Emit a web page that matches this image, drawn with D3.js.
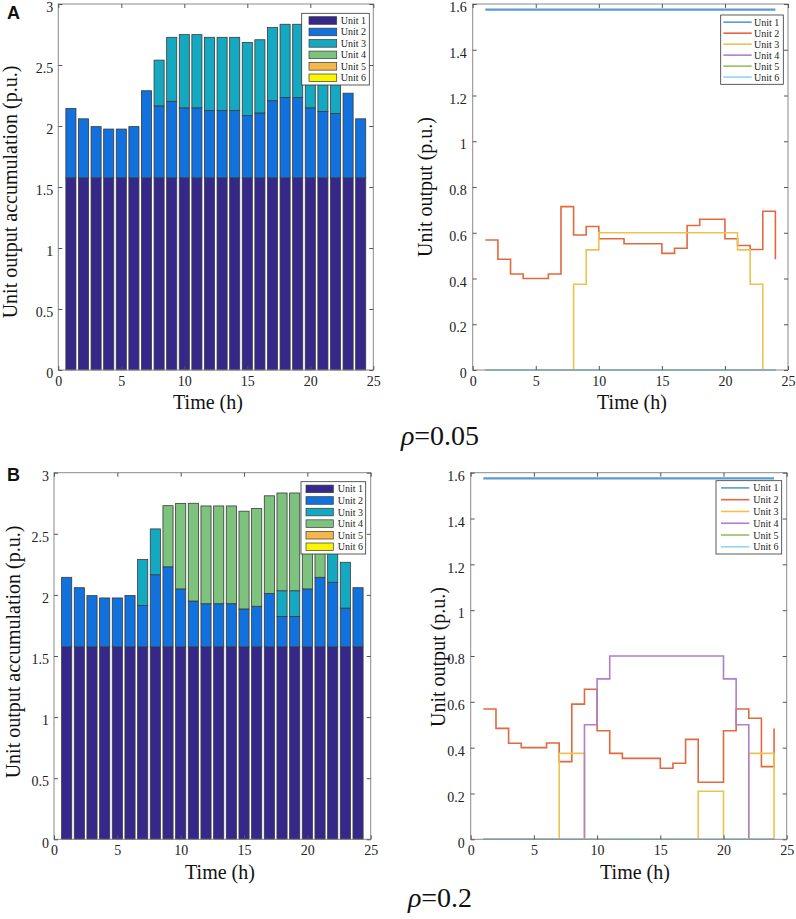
<!DOCTYPE html>
<html>
<head>
<meta charset="utf-8">
<script src="https://cdn.jsdelivr.net/npm/d3@7"></script>
<style>
  body { margin: 0; background: #fff; }
</style>
</head>
<body>
<script>
// hours 1..24
var hours = [1,2,3,4,5,6,7,8,9,10,11,12,13,14,15,16,17,18,19,20,21,22,23,24];
var unitNames = ["Unit 1","Unit 2","Unit 3","Unit 4","Unit 5","Unit 6"];

// rho = 0.05
var aUnit1 = [1.575,1.575,1.575,1.575,1.575,1.575,1.575,1.575,1.575,1.575,1.575,1.575,1.575,1.575,1.575,1.575,1.575,1.575,1.575,1.575,1.575,1.575,1.575,1.575];
var aUnit2 = [0.568,0.484,0.42,0.40,0.40,0.42,0.714,0.59,0.627,0.574,0.574,0.552,0.552,0.552,0.51,0.532,0.632,0.659,0.659,0.574,0.544,0.527,0.694,0.484];
var aUnit3 = [0,0,0,0,0,0,0,0.375,0.525,0.6,0.6,0.6,0.6,0.6,0.6,0.6,0.6,0.6,0.6,0.6,0.525,0.375,0,0];
var aUnit4 = [0,0,0,0,0,0,0,0,0,0,0,0,0,0,0,0,0,0,0,0,0,0,0,0];
var aUnit5 = [0,0,0,0,0,0,0,0,0,0,0,0,0,0,0,0,0,0,0,0,0,0,0,0];
var aUnit6 = [0,0,0,0,0,0,0,0,0,0,0,0,0,0,0,0,0,0,0,0,0,0,0,0];

// rho = 0.2
var bUnit1 = [1.575,1.575,1.575,1.575,1.575,1.575,1.575,1.575,1.575,1.575,1.575,1.575,1.575,1.575,1.575,1.575,1.575,1.575,1.575,1.575,1.575,1.575,1.575,1.575];
var bUnit2 = [0.569,0.484,0.419,0.40,0.40,0.42,0.339,0.59,0.655,0.474,0.375,0.353,0.353,0.353,0.31,0.332,0.436,0.249,0.249,0.474,0.569,0.528,0.317,0.484];
var bUnit3 = [0,0,0,0,0,0,0.375,0.375,0,0,0,0,0,0,0,0,0,0.21,0.21,0,0,0.375,0.375,0];
var bUnit4 = [0,0,0,0,0,0,0,0,0.5,0.7,0.8,0.8,0.8,0.8,0.8,0.8,0.8,0.8,0.8,0.7,0.5,0,0,0];
var bUnit5 = [0,0,0,0,0,0,0,0,0,0,0,0,0,0,0,0,0,0,0,0,0,0,0,0];
var bUnit6 = [0,0,0,0,0,0,0,0,0,0,0,0,0,0,0,0,0,0,0,0,0,0,0,0];

var barTicksY = [0,0.5,1,1.5,2,2.5,3];
var lineTicksY = [0,0.2,0.4,0.6,0.8,1,1.2,1.4,1.6];
var timeTicks = [0,5,10,15,20,25];

var barColors = ["#35288a","#1171dd","#14a9c0","#7dc37e","#f5b74a","#fbf500"];
var lineColors = ["#5a9bd6","#e2683f","#efc24f","#b07fc8","#95c060","#8fd7f2"];

var serif = "'Times New Roman', 'Liberation Serif', serif";

var svg = d3.select("body").append("svg")
    .attr("width", 796)
    .attr("height", 919)
    .style("font-family", serif);

function frame(g, x, y, ticksY, tickPadY){
    var w = x.range()[1], h = y.range()[0];
    g.append("rect").attr("x",0).attr("y",0).attr("width",w).attr("height",h)
        .attr("fill","none").attr("stroke","#8a8a8a").attr("stroke-width",1);

    var ax = g.append("g").attr("transform","translate(0,"+h+")")
        .call(d3.axisBottom(x).tickValues(timeTicks).tickSize(-4).tickSizeOuter(0).tickPadding(6));
    var ay = g.append("g")
        .call(d3.axisLeft(y).tickValues(ticksY).tickFormat(d3.format("~g")).tickSize(-4).tickSizeOuter(0).tickPadding(tickPadY));
    g.append("g").call(d3.axisTop(x).tickValues(timeTicks).tickFormat("").tickSize(-4).tickSizeOuter(0));
    g.append("g").attr("transform","translate("+w+",0)")
        .call(d3.axisRight(y).tickValues(ticksY).tickFormat("").tickSize(-4).tickSizeOuter(0));
    g.selectAll(".domain").remove();
    g.selectAll(".tick line").attr("stroke","#555");
    g.selectAll(".tick text").attr("font-size",14).attr("fill","#222")
        .attr("font-family", serif);
    ay.selectAll(".tick text").attr("dy","0.55em");
}

function barPanel(px, py, pw, ph, series, lg, labels){
    var g = svg.append("g").attr("transform","translate("+px+","+py+")");
    var x = d3.scaleLinear().domain([0,25]).range([0,pw]);
    var y = d3.scaleLinear().domain([0,3]).range([ph,0]);

    var rows = hours.map(function(hh,i){
        var r = {hour: hh};
        series.forEach(function(s,k){ r["u"+k] = s[i]; });
        return r;
    });
    var stack = d3.stack().keys(["u0","u1","u2","u3","u4","u5"])(rows);

    var bw = x(0.8) - x(0);
    stack.forEach(function(layer,k){
        g.selectAll(".b"+k).data(layer.filter(function(d){ return d[1]-d[0] > 0; }))
            .enter().append("rect")
            .attr("x", function(d){ return x(d.data.hour) - bw/2; })
            .attr("y", function(d){ return y(d[1]); })
            .attr("width", bw)
            .attr("height", function(d){ return y(d[0]) - y(d[1]); })
            .attr("fill", barColors[k])
            .attr("stroke","#3a3a3a")
            .attr("stroke-width",0.8);
    });

    frame(g, x, y, barTicksY, 5);
    legend(g, lg, true);
    axisLabels(labels, "Unit output accumulation (p.u.)");
}

function linePanel(px, py, pw, ph, series, lg, labels){
    var g = svg.append("g").attr("transform","translate("+px+","+py+")");
    var x = d3.scaleLinear().domain([0,25]).range([0,pw]);
    var y = d3.scaleLinear().domain([0,1.6]).range([ph,0]);

    var line = d3.line()
        .x(function(d){ return x(d[0]); })
        .y(function(d){ return y(d[1]); })
        .curve(d3.curveStepAfter);

    series.forEach(function(s,k){
        g.append("path")
            .attr("d", line(hours.map(function(hh,i){ return [hh, s[i]]; })))
            .attr("fill","none")
            .attr("stroke", lineColors[k])
            .attr("stroke-width", k==0 ? 2.2 : 1.6);
    });

    frame(g, x, y, lineTicksY, 6);
    legend(g, lg, false);
    axisLabels(labels, "Unit output (p.u.)");
}

function legend(g, lg, swatch){
    var box = g.append("g").attr("transform","translate("+lg.x+","+lg.y+")");
    box.append("rect").attr("width",lg.w).attr("height",lg.h)
        .attr("fill","#fff").attr("stroke","#333").attr("stroke-width",0.8);
    var rowY = d3.scalePoint().domain(unitNames).range([7.2, lg.h-7.2]);
    unitNames.forEach(function(n,k){
        if(swatch){
            box.append("rect").attr("x",lg.sx).attr("y",rowY(n)-3.8)
                .attr("width",lg.sw).attr("height",7.6)
                .attr("fill",barColors[k]).attr("stroke","#3a3a3a").attr("stroke-width",0.7);
        } else {
            box.append("line").attr("x1",lg.sx).attr("x2",lg.sx+lg.sw)
                .attr("y1",rowY(n)).attr("y2",rowY(n))
                .attr("stroke",lineColors[k]).attr("stroke-width",1.6);
        }
        box.append("text").attr("x",lg.tx).attr("y",rowY(n)).attr("dy","0.35em")
            .attr("font-size",10).attr("fill","#222").text(n);
    });
}

function axisLabels(lb, yText){
    svg.append("text")
        .attr("transform","translate("+lb.yx+","+lb.yy+") rotate(-90)")
        .attr("text-anchor","middle").attr("dy","0.35em")
        .attr("font-size",20).attr("fill","#111").text(yText);
    svg.append("text")
        .attr("x",lb.tx).attr("y",lb.ty)
        .attr("text-anchor","middle")
        .attr("font-size",20).attr("fill","#111").text("Time (h)");
}

// panel A
barPanel(58.3, 4, 315, 366,
    [aUnit1,aUnit2,aUnit3,aUnit4,aUnit5,aUnit6],
    {x:243.4, y:9.3, w:67.6, h:71.7, sx:7.3, sw:27.7, tx:39},
    {yx:10, yy:192, tx:208, ty:409});
linePanel(472.7, 4, 315.3, 366,
    [aUnit1,aUnit2,aUnit3,aUnit4,aUnit5,aUnit6],
    {x:248, y:11, w:62.6, h:69.3, sx:2.6, sw:28.4, tx:33.3},
    {yx:425, yy:187, tx:632, ty:409});

// panel B
barPanel(54, 472.7, 316.7, 366.6,
    [bUnit1,bUnit2,bUnit3,bUnit4,bUnit5,bUnit6],
    {x:247, y:9, w:64.7, h:72.3, sx:5, sw:27.3, tx:36.7},
    {yx:13.3, yy:652, tx:220, ty:879});
linePanel(470.7, 472.7, 316, 366.6,
    [bUnit1,bUnit2,bUnit3,bUnit4,bUnit5,bUnit6],
    {x:245.3, y:8, w:65.7, h:73.3, sx:5, sw:28.3, tx:37.3},
    {yx:437.7, yy:657, tx:635, ty:879});

// panel letters and rho captions
var letters = [{t:"A", y:19}, {t:"B", y:481}];
letters.forEach(function(l){
    svg.append("text").attr("x",7).attr("y",l.y).attr("font-size",18).attr("font-weight","bold")
        .style("font-family","Arial, 'Liberation Sans', sans-serif").attr("fill","#111").text(l.t);
});

var captions = [{t:"0.05", y:445}, {t:"0.2", y:907}];
captions.forEach(function(c){
    var tx = svg.append("text").attr("x",440).attr("y",c.y)
        .attr("text-anchor","middle").attr("font-size",28).attr("fill","#111");
    tx.append("tspan").attr("font-style","italic").text("\u03c1");
    tx.append("tspan").text("=" + c.t);
});
</script>
</body>
</html>
